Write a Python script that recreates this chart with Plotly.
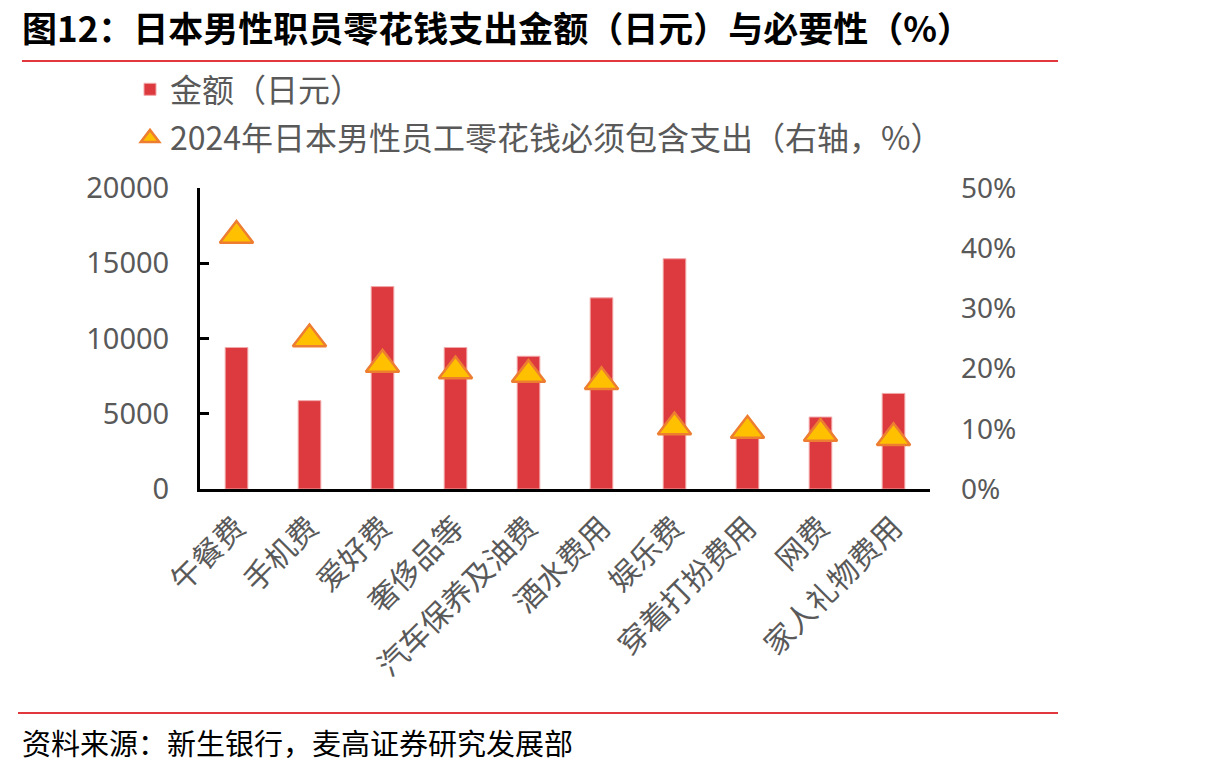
import plotly.graph_objects as go

categories = ["午餐费", "手机费", "爱好费", "奢侈品等", "汽车保养及油费", "酒水费用",
              "娱乐费", "穿着打扮费用", "网费", "家人礼物费用"]
amount_yen = [9400, 5870, 13450, 9400, 8820, 12700, 15300, 3700, 4780, 6350]
necessity_pct = [0.421, 0.249, 0.207, 0.196, 0.190, 0.178, 0.103, 0.097, 0.092, 0.085]
left_ticks = [0, 5000, 10000, 15000, 20000]
right_ticks = [0, 0.1, 0.2, 0.3, 0.4, 0.5]

W, H = 1215, 771
L, R, T, B = 200, 930, 188, 489


def px(x):
    return (x - L) / (R - L)


def py(y):
    return (B - y) / (B - T)


CJK = "Noto Sans CJK SC"
GRAY = "#595959"

fig = go.Figure()
fig.add_trace(go.Bar(
    x=categories, y=amount_yen, name="金额（日元）", legendgroup="a",
    marker=dict(color="#DC3A3E", line=dict(color="#F2A7A9", width=1)),
    width=0.31, yaxis="y",
))
fig.add_trace(go.Scatter(
    x=categories, y=necessity_pct, mode="markers", legendgroup="b",
    name="2024年日本男性员工零花钱必须包含支出（右轴，%）",
    marker=dict(symbol="triangle-up", size=29, color="#FFC000",
                line=dict(color="#ED7D31", width=2.5)),
    yaxis="y2",
))

fig.update_layout(
    width=W, height=H,
    margin=dict(l=L, r=W - R, t=T, b=H - B),
    paper_bgcolor="white", plot_bgcolor="white",
    font=dict(family=CJK, color=GRAY),
    showlegend=True,
    legend=dict(x=px(130), y=py(62), xanchor="left", yanchor="top",
                font=dict(size=32, color=GRAY, family=CJK),
                tracegroupgap=4, bgcolor="rgba(0,0,0,0)"),
    xaxis=dict(type="category", tickangle=-45, showline=True, linecolor="black",
               linewidth=3, ticks="", showgrid=False, ticklabelstandoff=6,
               tickfont=dict(size=30, color=GRAY, family=CJK),
               range=[-0.5, len(categories) - 0.5]),
    yaxis=dict(range=[0, 20000], tickvals=left_ticks, tickformat="d",
               showline=True, linecolor="black", linewidth=3,
               ticks="inside", ticklen=9, tickwidth=3, tickcolor="black",
               showgrid=False, zeroline=False, ticklabelstandoff=22,
               tickfont=dict(size=29, color=GRAY, family="Noto Sans")),
    yaxis2=dict(range=[0, 0.5], tickvals=right_ticks, tickformat=".0%",
                overlaying="y", side="right", showline=False, ticks="",
                showgrid=False, zeroline=False, ticklabelstandoff=30,
                tickfont=dict(size=28, color=GRAY, family="Noto Sans")),
    bargap=0.69,
)

fig.add_annotation(
    text="<b>图12：日本男性职员零花钱支出金额（日元）与必要性（%）</b>",
    xref="paper", yref="paper", x=px(20), y=py(27), xanchor="left", yanchor="middle",
    showarrow=False, font=dict(size=35, color="black", family=CJK),
)
fig.add_annotation(
    text="资料来源：新生银行，麦高证券研究发展部",
    xref="paper", yref="paper", x=px(20), y=py(742), xanchor="left", yanchor="middle",
    showarrow=False, font=dict(size=29, color="black", family=CJK),
)
for yline, x0 in [(61, 22), (713, 18)]:
    fig.add_shape(type="line", xref="paper", yref="paper",
                  x0=px(x0), x1=px(1058), y0=py(yline), y1=py(yline),
                  line=dict(color="#E0383D", width=2))

fig.write_html("out.html")
